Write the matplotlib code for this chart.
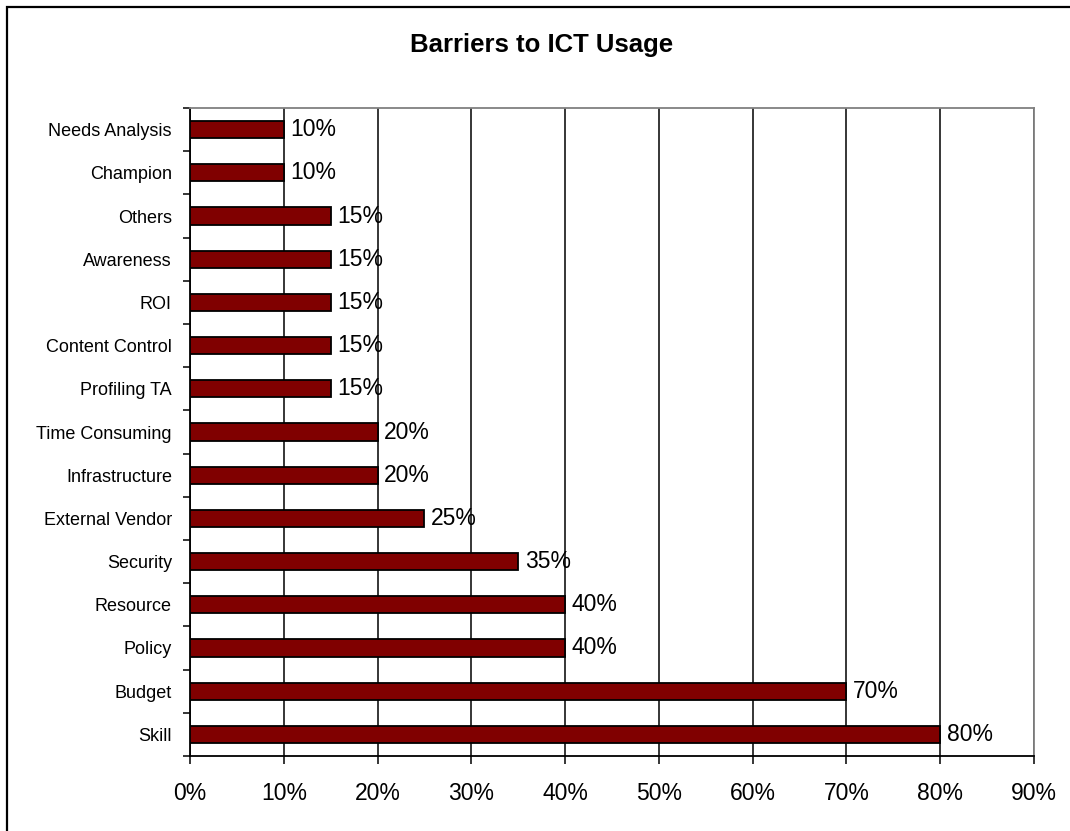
import matplotlib.pyplot as plt
from matplotlib.patches import Rectangle
from matplotlib.ticker import FuncFormatter, MultipleLocator
import numpy as np

plt.rcParams['font.family'] = ['Liberation Sans', 'DejaVu Sans']

# Barrier categories, bottom to top
barriers = ['Skill', 'Budget', 'Policy', 'Resource', 'Security', 'External Vendor',
            'Infrastructure', 'Time Consuming', 'Profiling TA', 'Content Control',
            'ROI', 'Awareness', 'Others', 'Champion', 'Needs Analysis']
share = [0.80, 0.70, 0.40, 0.40, 0.35, 0.25, 0.20, 0.20, 0.15, 0.15,
         0.15, 0.15, 0.15, 0.10, 0.10]

bar_color = '#800000'

fig = plt.figure(figsize=(10.70, 8.31), dpi=100)
ax = fig.add_axes([190 / 1070, 75 / 831, 844 / 1070, 648 / 831])

y = np.arange(len(barriers))
ax.barh(y, share, height=0.4, color=bar_color, edgecolor='black', linewidth=1.3, zorder=3)

for yi, v in zip(y, share):
    ax.text(v + 0.007, yi, f'{v:.0%}', va='center', ha='left', fontsize=16.5, zorder=4)

ax.set_xlim(0, 0.9)
ax.set_ylim(-0.5, len(barriers) - 0.5)
ax.xaxis.set_major_locator(MultipleLocator(0.1))
ax.xaxis.set_major_formatter(FuncFormatter(lambda v, p: f'{v:.0%}'))
ax.grid(axis='x', color='black', linewidth=1.1, zorder=0)

ax.set_yticks(y)
ax.set_yticklabels(barriers, fontsize=13)
ax.set_yticks(np.arange(-0.5, len(barriers)), minor=True)
ax.tick_params(axis='y', which='major', length=0, pad=13)
ax.tick_params(axis='y', which='minor', length=5, width=1.1, direction='out')
ax.tick_params(axis='x', length=6, width=1.1, direction='out', pad=13, labelsize=16.5)

for side in ['left', 'bottom']:
    ax.spines[side].set_color('black')
    ax.spines[side].set_linewidth(1.3)
for side in ['top', 'right']:
    ax.spines[side].set_color('#808080')
    ax.spines[side].set_linewidth(1.3)

fig.text(0.506, 1 - 45 / 831, 'Barriers to ICT Usage', ha='center', va='center',
         fontsize=18.5, fontweight='bold')

# outer chart border
fig.patches.append(Rectangle((7 / 1070, -0.1), 1.2, 1.1 - 7 / 831, transform=fig.transFigure,
                             fill=False, edgecolor='black', linewidth=1.6))

fig.savefig('out.png', dpi=100)
